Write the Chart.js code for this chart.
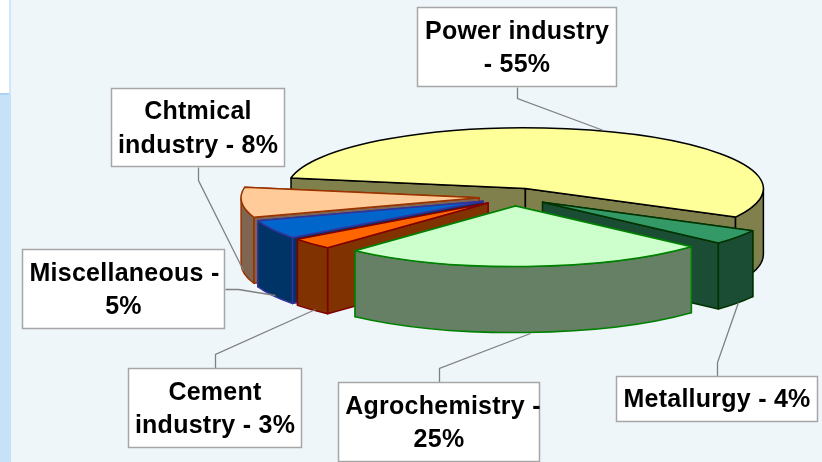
<!DOCTYPE html>
<html><head><meta charset="utf-8">
<style>html,body{margin:0;padding:0;background:#EEF6FA}canvas{display:block}</style>
<script src="https://cdn.jsdelivr.net/npm/chart.js@4"></script>
</head><body><canvas id="c" width="822" height="462"></canvas>
<script>
const categories = ['Power industry','Metallurgy','Agrochemistry','Cement industry','Miscellaneous','Chtmical industry'];
const shares = [55,4,25,3,5,8];
const labelLines = [['Power industry','- 55%'],['Metallurgy - 4%'],['Agrochemistry -','25%'],['Cement','industry - 3%'],['Miscellaneous -','5%'],['Chtmical','industry - 8%']];
const topColors = ['#FFFF99','#339966','#CCFFCC','#FF6600','#0066CC','#FFCC99'];
const sideColors = ['#80804D','#1A4D33','#668066','#803300','#003366','#806650'];
const edgeColors = ['#000000','#003300','#008000','#800000','#333399','#993300'];
const paintOrder = [0,5,4,3,1,2];
const labelBoxes = [[417,7,617,87],[616,376,818,422],[338,382,540,462],[128,368,302,448],[22,249,225,329],[111,88,285,167]];
const firstLineShift = [0,0,4,0,1,0];
const leaders = [[[517,87],[517,98],[603,130]],[[717,376],[717,362],[738,302]],[[439,382],[439,368],[530,333]],[[215,368],[215,354],[315,309]],[[225,289],[238,289],[275,295]],[[198,167],[198,180],[243,270]]];
const SQUASH = 0.255, DEPTH = 66, EXPLODE = 35;

function pt(s,a){return [s.cx+s.r*Math.cos(a), s.cy+s.r*SQUASH*Math.sin(a)];}
function radialFace(ctx,s,a,fill,edge){
  const p=pt(s,a);
  ctx.beginPath();ctx.moveTo(s.cx,s.cy);ctx.lineTo(p[0],p[1]);ctx.lineTo(p[0],p[1]+DEPTH);ctx.lineTo(s.cx,s.cy+DEPTH);ctx.closePath();
  ctx.fillStyle=fill;ctx.fill();ctx.strokeStyle=edge;ctx.stroke();
}
function rim(ctx,s,a0,a1,fill,edge){
  ctx.beginPath();
  ctx.ellipse(s.cx,s.cy,s.r,s.r*SQUASH,0,a0,a1,false);
  ctx.ellipse(s.cx,s.cy+DEPTH,s.r,s.r*SQUASH,0,a1,a0,true);
  ctx.closePath();ctx.fillStyle=fill;ctx.fill();ctx.strokeStyle=edge;ctx.stroke();
}
const pie3d = {
  id:'pie3d',
  beforeDraw(chart){
    const c=chart.ctx;c.save();
    c.fillStyle='#EEF6FA';c.fillRect(0,0,822,462);
    c.fillStyle='#CFE7FC';c.fillRect(9,0,2,94);
    c.fillStyle='#FFFFFF';c.fillRect(0,0,9,93);
    c.fillStyle='#C5E2F8';c.fillRect(0,94,11,368);
    c.fillStyle='#A9D2F5';c.fillRect(0,93,9,2);
    c.restore();
  },
  beforeDatasetsDraw(chart){
    const ctx=chart.ctx, arcs=chart.getDatasetMeta(0).data;
    ctx.save();ctx.lineWidth=1.5;ctx.lineJoin='round';
    const TWO=Math.PI*2;
    paintOrder.forEach(i=>{
      const el=arcs[i],mid=(el.startAngle+el.endAngle)/2,off=el.options.offset;
      const s={cx:el.x+off*Math.cos(mid),cy:el.y+off*SQUASH*Math.sin(mid),r:el.outerRadius};
      const a0=el.startAngle,a1=el.endAngle;
      const faces=[a0,a1].sort((u,v)=>Math.sin(u)-Math.sin(v));
      faces.forEach(a=>radialFace(ctx,s,a,sideColors[i],edgeColors[i]));
      for(let k=-1;k<=2;k++){
        const lo=Math.max(a0,k*TWO),hi=Math.min(a1,k*TWO+Math.PI);
        if(hi>lo) rim(ctx,s,lo,hi,sideColors[i],edgeColors[i]);
      }
      ctx.beginPath();ctx.moveTo(s.cx,s.cy);
      ctx.ellipse(s.cx,s.cy,s.r,s.r*SQUASH,0,a0,a1,false);ctx.closePath();
      ctx.fillStyle=topColors[i];ctx.fill();ctx.strokeStyle=edgeColors[i];ctx.stroke();
    });
    ctx.restore();
    return false;
  },
  afterDraw(chart){
    const ctx=chart.ctx;ctx.save();
    ctx.strokeStyle='#808080';ctx.lineWidth=1.3;
    leaders.forEach(l=>{ctx.beginPath();l.forEach((p,j)=>j?ctx.lineTo(p[0]+.5,p[1]+.5):ctx.moveTo(p[0]+.5,p[1]+.5));ctx.stroke();});
    ctx.textAlign='center';ctx.textBaseline='middle';ctx.font='bold 25px "Liberation Sans"';ctx.letterSpacing='0.25px';
    labelBoxes.forEach((b,i)=>{
      ctx.fillStyle='#FFFFFF';ctx.fillRect(b[0],b[1],b[2]-b[0],b[3]-b[1]);
      ctx.strokeStyle='#A6A6A6';ctx.lineWidth=1.5;ctx.strokeRect(b[0]+.5,b[1]+.5,b[2]-b[0]-1,b[3]-b[1]-1);
    });
    labelBoxes.forEach((b,i)=>{
      ctx.fillStyle='#000000';
      const cx=(b[0]+b[2])/2,cy=(b[1]+b[3])/2+1.5,n=labelLines[i].length;
      labelLines[i].forEach((t,j)=>ctx.fillText(t,cx+(j===0?firstLineShift[i]:0),cy+(j-(n-1)/2)*33.5));
    });
    ctx.restore();
  }
};
new Chart(document.getElementById('c'),{
  type:'pie',
  data:{labels:categories,datasets:[{data:shares,backgroundColor:topColors,borderColor:edgeColors,offset:EXPLODE,radius:238}]},
  options:{
    responsive:false,animation:false,rotation:280,
    layout:{padding:{left:206,bottom:68}},
    plugins:{legend:{display:false},tooltip:{enabled:false}}
  },
  plugins:[pie3d]
});
</script></body></html>
